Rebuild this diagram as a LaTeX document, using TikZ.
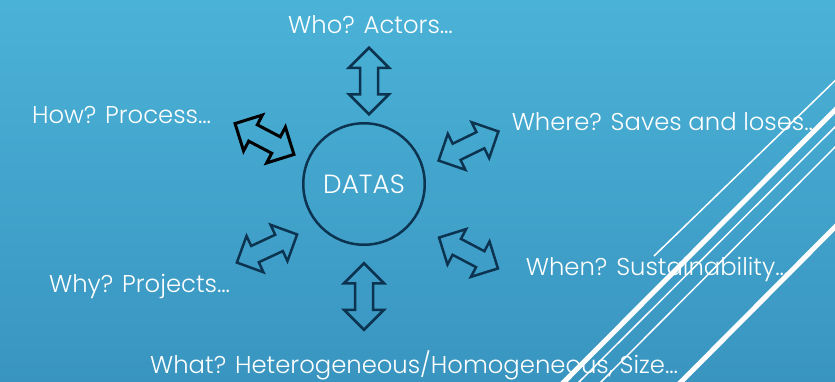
\documentclass[tikz,border=0pt]{standalone}
\usepackage{fontspec}
\setmainfont{Poppins}[UprightFont={* Light}]
\usetikzlibrary{shapes.arrows}
\definecolor{bgtop}{RGB}{75,178,215}
\definecolor{bgbot}{RGB}{57,149,192}
\definecolor{navy}{RGB}{12,52,80}
\begin{document}
\begin{tikzpicture}[x=1pt,y=-1pt,
  dblarrow/.style={double arrow, draw=navy, line width=2.5pt, inner xsep=0pt,
    inner ysep=7.75pt, minimum height=66.5pt, minimum width=0pt,
    double arrow head extend=11pt, double arrow tip angle=90},
  lbl/.style={text=white, font=\fontsize{24.3}{28}\selectfont, anchor=base, inner sep=0pt},
  thinline/.style={white, line width=1.5pt},
  thickline/.style={white, line width=5pt}]
\useasboundingbox (0,0) rectangle (835,381);
\shade[top color=bgtop, bottom color=bgbot] (0,0) rectangle (835,381);
% labels
\node[lbl] (who) at (370.5,33) {Who? Actors…};
\node[lbl] (how) at (121.5,123) {How? Process…};
\node[lbl] (where) at (664.5,130.7) {Where? Saves and loses…};
\node[lbl] (when) at (657,275) {When? Sustainability…};
\node[lbl] (why) at (139.5,292) {Why? Projects…};
\node[lbl] (what) at (414,373.5) {What? Heterogeneous/Homogeneous, Size…};
% centre
\node[circle, draw=navy, line width=2.5pt, minimum size=121.5pt, inner sep=0pt,
  text=white, font=\fontsize{26.3}{30}\selectfont] (datas) at (364,184) {DATAS};
% arrows
\node[dblarrow, rotate=90] (awho) at (369,81) {};
\node[dblarrow, rotate=90] (awhat) at (364,296.5) {};
\node[dblarrow, draw=black, line width=3pt, rotate=-27.7] (ahow) at (264.5,139) {};
\node[dblarrow, rotate=26] (awhere) at (468.5,146) {};
\node[dblarrow, rotate=25] (awhy) at (267,248.5) {};
\node[dblarrow, rotate=-27.7] (awhen) at (468.5,253) {};
% decorative lines
\begin{scope}
\clip (0,0) rectangle (835,381);
\draw[thinline] (845,71) -- (654,256);
\draw[thickline] (845,100) -- (555,391);
\draw[thinline] (845,117) -- (570,391);
\draw[thinline] (845,137) -- (592,391);
\draw[thickline] (845,217) -- (672,391);
\end{scope}
\end{tikzpicture}
\end{document}
